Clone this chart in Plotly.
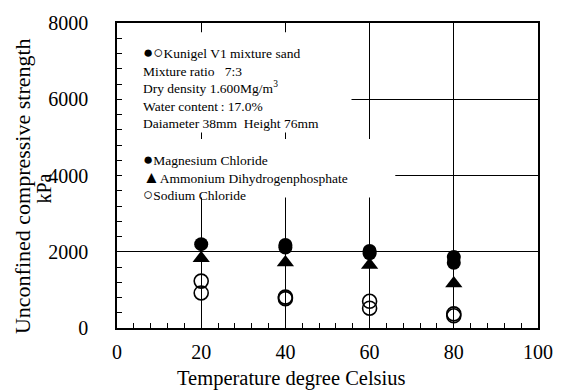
import plotly.graph_objects as go

# Unconfined compressive strength (kPa) vs. curing temperature (deg C)
temps_mg = [20, 40, 40, 60, 60, 80, 80]
strength_mg = [2200, 2180, 2110, 2020, 1960, 1860, 1710]

temps_nh4 = [20, 40, 60, 80]
strength_nh4 = [1830, 1720, 1650, 1170]

temps_na = [20, 20, 40, 40, 60, 60, 80, 80]
strength_na = [1230, 920, 810, 770, 700, 520, 370, 320]

x_ticks = [0, 20, 40, 60, 80, 100]
y_ticks = [0, 2000, 4000, 6000, 8000]

FONT = "Liberation Serif"
W, H = 565, 391
L, R, T, B = 117, 17, 19, 63
PW, PH = W - L - R, H - T - B


def px(x):
    return (x - L) / PW


def py(y):
    return (H - B - y) / PH


fig = go.Figure()

fig.add_trace(go.Scatter(
    x=temps_nh4, y=strength_nh4, mode="markers",
    marker=dict(symbol="triangle-up", size=15, color="black"),
    name="Ammonium Dihydrogenphosphate"))
fig.add_trace(go.Scatter(
    x=temps_mg, y=strength_mg, mode="markers",
    marker=dict(symbol="circle", size=14, color="black"),
    name="Magnesium Chloride"))
fig.add_trace(go.Scatter(
    x=temps_na, y=strength_na, mode="markers",
    marker=dict(symbol="circle-open", size=14, color="black",
                line=dict(width=1.6, color="black")),
    name="Sodium Chloride"))

# white panels behind the notes, drawn over the grid
fig.add_shape(type="rect", xref="x", yref="y", x0=0, x1=55.7, y0=5130, y1=7760,
              fillcolor="white", line=dict(width=0), layer="between")
fig.add_shape(type="rect", xref="x", yref="y", x0=0, x1=66.1, y0=3420, y1=4960,
              fillcolor="white", line=dict(width=0), layer="between")

tick_font = dict(family=FONT, size=20, color="black")
axis_common = dict(
    showline=True, linecolor="black", linewidth=1.5, mirror=True,
    showgrid=True, gridcolor="black", gridwidth=1,
    zeroline=False,
    ticks="inside", ticklen=5, tickcolor="black", tickwidth=1,
)

fig.update_xaxes(range=[0, 100], tickvals=x_ticks, ticktext=[str(v) for v in x_ticks],
                 tickfont=tick_font,
                 minor=dict(dtick=4, ticks="inside", ticklen=5, tickcolor="black", showgrid=False),
                 ticklabelstandoff=5, **axis_common)
fig.update_yaxes(range=[0, 8000], tickvals=y_ticks,
                 ticktext=[str(v) + "\u2005" for v in y_ticks],
                 tickfont=tick_font,
                 minor=dict(dtick=400, ticks="inside", ticklen=5, tickcolor="black", showgrid=False),
                 ticklabelstandoff=18, **axis_common)

BIG = '<span style="font-size:17px">{}</span>'
note1 = (BIG.format("\u25cf\u25cb") + "Kunigel V1 mixture sand<br>"
         "Mixture ratio   7:3<br>"
         "Dry density 1.600Mg/m<sup>3</sup><br>"
         "Water content\u202f: 17.0%<br>"
         "Daiameter 38mm  Height 76mm")
note2 = (BIG.format("\u25cf") + "Magnesium Chloride<br>"
         + BIG.format("\u25b2") + "Ammonium Dihydrogenphosphate<br>"
         + BIG.format("\u25cb") + "Sodium Chloride")

fig.add_annotation(text=note1, xref="paper", yref="paper", x=0.058, y=0.94,
                   xanchor="left", yanchor="top", align="left", showarrow=False,
                   font=dict(family=FONT, size=13.5, color="black"))
fig.add_annotation(text=note2, xref="paper", yref="paper", x=0.058, y=0.59,
                   xanchor="left", yanchor="top", align="left", showarrow=False,
                   font=dict(family=FONT, size=13.5, color="black"))

fig.add_annotation(text="Temperature degree Celsius", xref="paper", yref="paper",
                   x=px(296), y=py(379), xanchor="center", yanchor="middle",
                   showarrow=False, font=dict(family=FONT, size=20.5, color="black"))
fig.add_annotation(text="Unconfined compressive strength", xref="paper", yref="paper",
                   x=px(21), y=py(184), xanchor="center", yanchor="middle",
                   textangle=-90, showarrow=False,
                   font=dict(family=FONT, size=22, color="black"))
fig.add_annotation(text="kPa", xref="paper", yref="paper",
                   x=px(42), y=py(187), xanchor="center", yanchor="middle",
                   textangle=-90, showarrow=False,
                   font=dict(family=FONT, size=20, color="black"))

fig.update_layout(
    width=W, height=H,
    margin=dict(l=L, r=R, t=T, b=B),
    paper_bgcolor="white", plot_bgcolor="white",
    font=dict(family=FONT, color="black"),
    showlegend=False,
)

fig.write_html("out.html")
